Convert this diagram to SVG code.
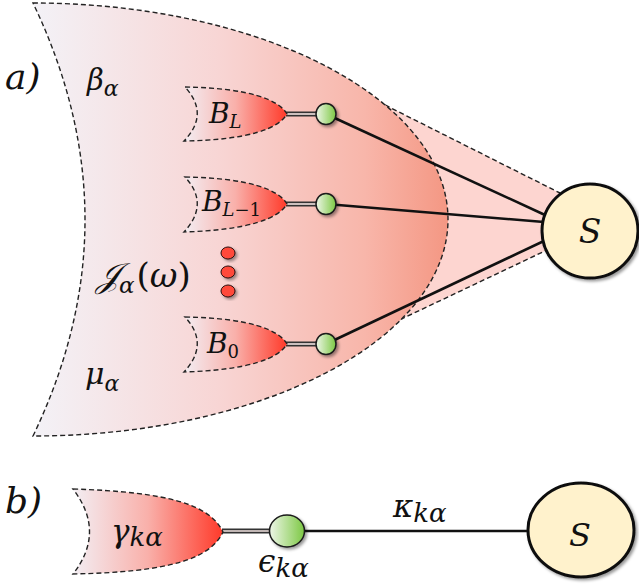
<svg xmlns="http://www.w3.org/2000/svg" width="639" height="587" viewBox="0 0 639 587">
<style>
.dash{fill:none;stroke:#222;stroke-width:1.4;stroke-dasharray:5 3}
.math{font-family:"DejaVu Serif","Liberation Serif",serif;font-style:italic;fill:#111}
.up{font-style:normal}
.wire{stroke:#111;stroke-width:2.6;fill:none}
.dbl-o{stroke:#333;stroke-width:5;fill:none}
.dbl-i{stroke:#f3e4e2;stroke-width:1.6;fill:none}
.mode{fill:url(#gGreen);stroke:#1a1a1a;stroke-width:1.5}
.sys{fill:#fff2cc;stroke:#111;stroke-width:3}
.dot{fill:#ff4a3a;stroke:#2a1010;stroke-width:1}
.sb{fill:url(#gSub);stroke:#222;stroke-width:1.4;stroke-dasharray:5 3}
</style>
<defs>
<linearGradient id="gBath" gradientUnits="userSpaceOnUse" x1="33" y1="0" x2="448" y2="0">
<stop offset="0" stop-color="#f3f2f7"/>
<stop offset="0.45" stop-color="#f8d5d4"/>
<stop offset="0.8" stop-color="#f8b6aa"/>
<stop offset="1" stop-color="#f49783"/>
</linearGradient>
<linearGradient id="gSub" x1="0" y1="0" x2="1" y2="0">
<stop offset="0" stop-color="#f3eef3"/>
<stop offset="0.5" stop-color="#f9b0aa"/>
<stop offset="1" stop-color="#ff3a2a"/>
</linearGradient>
<linearGradient id="gGreen" x1="0" y1="0" x2="1" y2="0">
<stop offset="0" stop-color="#eef6e8"/>
<stop offset="1" stop-color="#7cc843"/>
</linearGradient>
<filter id="shadow" x="-30%" y="-30%" width="160%" height="160%">
<feDropShadow dx="2" dy="2" stdDeviation="1.5" flood-color="#000" flood-opacity="0.4"/>
</filter>
</defs>

<g id="cone">
<polygon points="385,105 560,193 547,250 393,323" fill="#fdd5d0"/>
<line class="dash" x1="385" y1="105" x2="560" y2="193"/>
<line class="dash" x1="393" y1="323" x2="547" y2="250"/>
</g>

<g id="bath">
<path d="M33,3 A415,216.5 0 0 1 33,436 Q137,220 33,3 Z" fill="url(#gBath)" stroke="#222" stroke-width="1.4" stroke-dasharray="5 3"/>
</g>

<g id="connectors">
<line class="dbl-o" x1="286" y1="114" x2="317" y2="114"/>
<line class="dbl-i" x1="286" y1="114" x2="317" y2="114"/>
<line class="dbl-o" x1="286" y1="204" x2="317" y2="204"/>
<line class="dbl-i" x1="286" y1="204" x2="317" y2="204"/>
<line class="dbl-o" x1="286" y1="344" x2="317" y2="344"/>
<line class="dbl-i" x1="286" y1="344" x2="317" y2="344"/>
<line class="wire" x1="326" y1="114" x2="545" y2="215"/>
<line class="wire" x1="326" y1="204" x2="544" y2="222"/>
<line class="wire" x1="326" y1="344" x2="546" y2="240"/>
<line class="dbl-o" x1="222" y1="531" x2="271" y2="531"/>
<line class="dbl-i" x1="222" y1="531" x2="271" y2="531"/>
<line class="wire" x1="300" y1="531" x2="530" y2="531"/>
</g>

<g id="sub-bath-L">
<path class="sb" d="M185,87 C250,88 279,100 287,114 C279,128 250,140 184,141 Q210,114 185,87 Z"/>
<text class="math" x="209" y="123" font-size="28">B<tspan font-size="18" dy="5">L</tspan></text>
</g>
<g id="sub-bath-L-1">
<path class="sb" d="M185,177 C250,178 279,190 287,204 C279,218 250,230 184,232 Q210,204 185,177 Z"/>
<text class="math" x="202" y="211" font-size="28">B<tspan font-size="18" dy="5">L<tspan class="up">−1</tspan></tspan></text>
</g>
<g id="sub-bath-0">
<path class="sb" d="M185,317 C250,318 279,330 287,344 C279,358 250,370 184,372 Q210,344 185,317 Z"/>
<text class="math" x="207" y="353" font-size="28">B<tspan class="up" font-size="18" dy="5">0</tspan></text>
</g>

<g id="mode-L"><ellipse class="mode" cx="326" cy="114" rx="10" ry="10.5" filter="url(#shadow)"/></g>
<g id="mode-L-1"><ellipse class="mode" cx="326" cy="204" rx="10" ry="10.5" filter="url(#shadow)"/></g>
<g id="mode-0"><ellipse class="mode" cx="326" cy="344" rx="10" ry="10.5" filter="url(#shadow)"/></g>

<g id="dots">
<ellipse class="dot" cx="228" cy="253" rx="7" ry="6" filter="url(#shadow)"/>
<ellipse class="dot" cx="228" cy="272" rx="7" ry="6" filter="url(#shadow)"/>
<ellipse class="dot" cx="228" cy="291" rx="7" ry="6" filter="url(#shadow)"/>
</g>

<g id="system-a">
<ellipse class="sys" cx="590" cy="231" rx="48" ry="47" filter="url(#shadow)"/>
<text class="math" x="590" y="243" font-size="33" text-anchor="middle">S</text>
</g>

<g id="labels-a">
<text class="math" x="5" y="89" font-size="36">a)</text>
<text class="math" x="87" y="90" font-size="29">β<tspan font-size="22" dy="6">α</tspan></text>
<text class="math" x="96" y="287" font-size="34">𝒥<tspan font-size="23" dy="6">α</tspan><tspan class="up" dy="-6" dx="2">(</tspan>ω<tspan class="up">)</tspan></text>
<text class="math" x="85" y="384" font-size="30">μ<tspan font-size="22" dy="7">α</tspan></text>
</g>

<g id="bath-b">
<path class="sb" d="M73,489 C170,492 210,505 223,532 C210,559 170,572 73,574 Q106,532 73,489 Z"/>
<text class="math" x="111" y="542" font-size="31">γ<tspan font-size="26" dy="4">kα</tspan></text>
</g>
<g id="mode-b">
<ellipse class="mode" cx="287" cy="531" rx="17.5" ry="16" filter="url(#shadow)"/>
<text class="math" x="258" y="572" font-size="31">ϵ<tspan font-size="26" dy="5">kα</tspan></text>
</g>
<g id="system-b">
<ellipse class="sys" cx="581" cy="530" rx="53" ry="47" filter="url(#shadow)"/>
<text class="math" x="580" y="546" font-size="32" text-anchor="middle">S</text>
</g>
<g id="labels-b">
<text class="math" x="5" y="513" font-size="36">b)</text>
<text class="math" x="393" y="517" font-size="31">κ<tspan font-size="26" dy="5">kα</tspan></text>
</g>
</svg>
